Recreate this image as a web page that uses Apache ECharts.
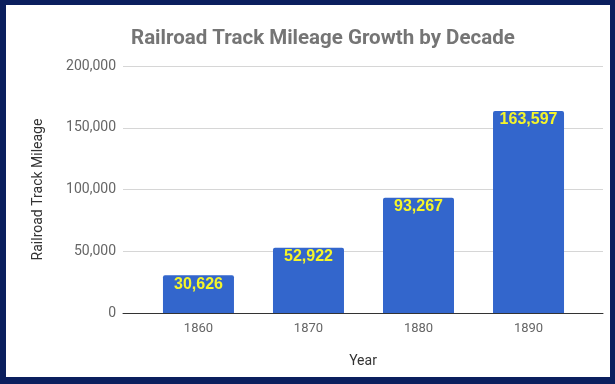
<!DOCTYPE html>
<html><head><meta charset="utf-8">
<script src="https://cdn.jsdelivr.net/npm/echarts@6/dist/echarts.min.js"></script>
<style>
html,body{margin:0;padding:0;background:#0b1f5e;}
#wrap{position:relative;width:615px;height:384px;background:#0b1f5e;}
#inner{position:absolute;left:6px;top:5px;width:604px;height:372px;background:#fff;}
#main{position:absolute;left:0;top:0;width:615px;height:384px;}
</style></head>
<body><div id="wrap"><div id="inner"></div><div id="main"></div></div>
<script>
const years = [1860, 1870, 1880, 1890];
const mileage = [30626, 52922, 93267, 163597];
const titleText = 'Railroad Track Mileage Growth by Decade';
const yName = 'Railroad Track Mileage';
const xName = 'Year';

const chart = echarts.init(document.getElementById('main'), null, {renderer:'canvas'});
const fmt = v => v.toLocaleString('en-US');
chart.setOption({
  backgroundColor: 'transparent',
  animation: false,
  title: {
    text: titleText, left: 126, top: 23,
    textStyle: {fontFamily: 'Roboto', fontWeight: 'bold', fontSize: 20.5, color: '#757575'}
  },
  grid: {left: 123, right: 12, top: 66, bottom: 71},
  xAxis: {
    type: 'value', min: 1853.14, max: 1896.77,
    name: xName, nameLocation: 'middle', nameGap: 41,
    nameTextStyle: {fontFamily: 'Roboto', fontSize: 14, color: '#333'},
    axisLine: {show: true, onZero: false, lineStyle: {color: '#333', width: 1}},
    axisTick: {show: false},
    splitLine: {show: false},
    axisLabel: {customValues: years, formatter: v => String(v), fontFamily: 'Roboto', fontSize: 13, color: '#666', margin: 9}
  },
  yAxis: {
    type: 'value', min: 0, max: 200000, interval: 50000,
    name: yName, nameLocation: 'middle', nameGap: 78, nameRotate: 90,
    nameTextStyle: {fontFamily: 'Roboto', fontSize: 14, color: '#333'},
    axisLine: {show: false}, axisTick: {show: false},
    splitLine: {lineStyle: {color: '#d6d6d6', width: 1}},
    axisLabel: {formatter: v => fmt(v), fontFamily: 'Roboto', fontSize: 14, color: '#666', margin: 7}
  },
  series: [{
    type: 'bar',
    data: years.map((y, i) => [y, mileage[i]]),
    barWidth: 71,
    itemStyle: {color: '#3366cc', borderRadius: [2, 2, 0, 0]},
    label: {
      show: true, position: 'insideTop', distance: 1,
      formatter: p => fmt(p.value[1]),
      fontFamily: 'Liberation Sans', fontSize: 16, fontWeight: 'bold', color: '#f5f52a'
    }
  }]
});
</script></body></html>
